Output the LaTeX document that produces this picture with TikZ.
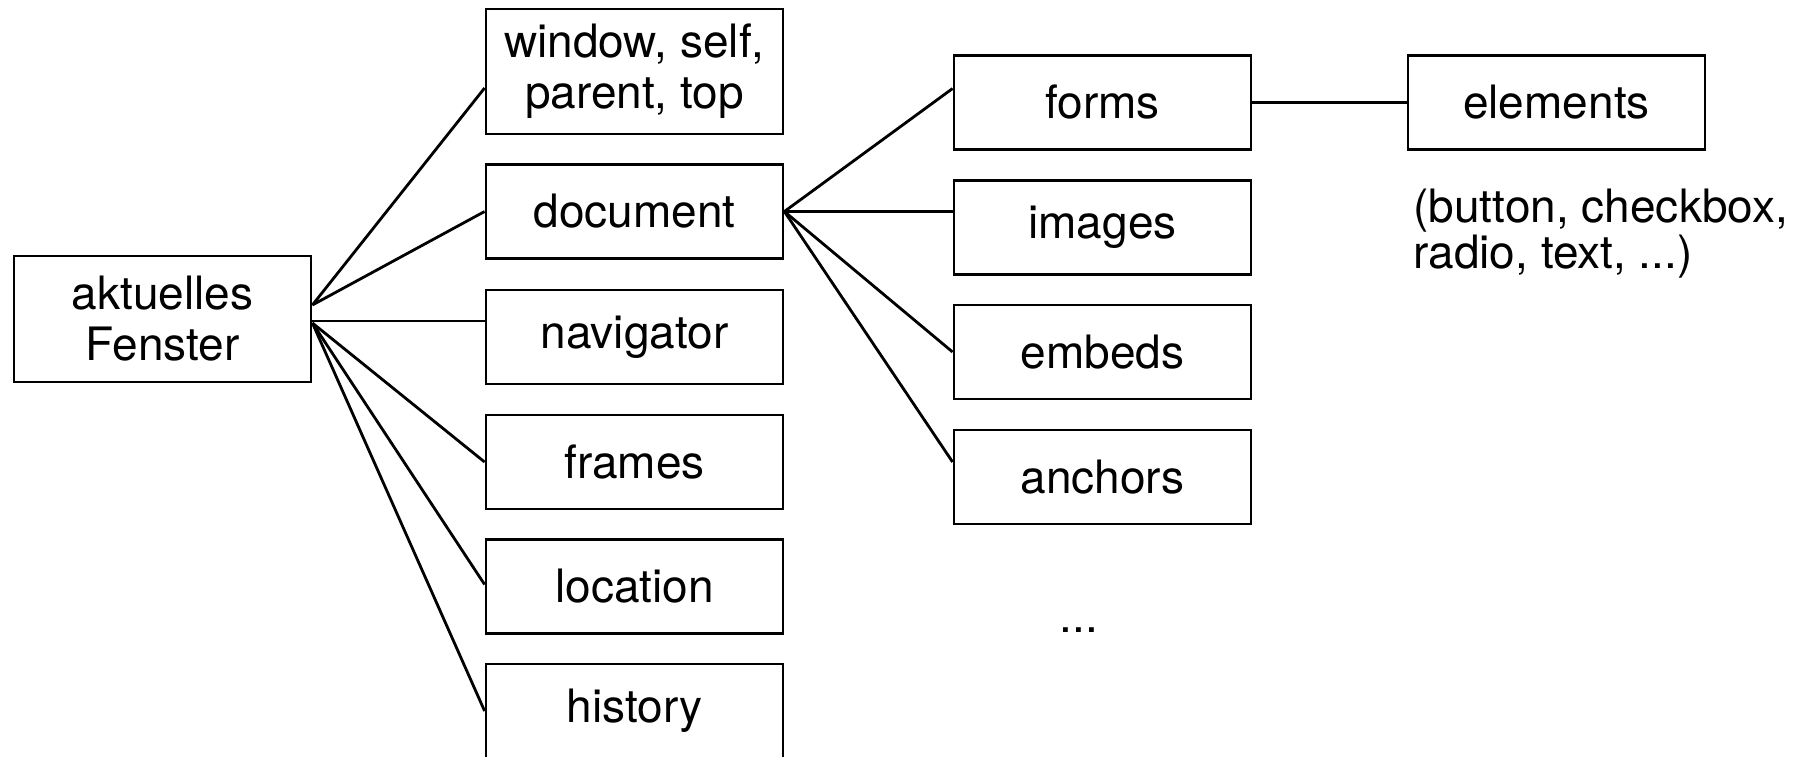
\documentclass[tikz,border=0pt]{standalone}
\usepackage{fontspec}
\setmainfont{TeX Gyre Heros}
\begin{document}
\begin{tikzpicture}[x=0.5pt,y=-0.5pt,line width=1.4pt,
    box/.style={draw,minimum width=148.5pt,minimum height=47pt,inner sep=0pt,
      align=center,font=\fontsize{23}{25.5}\selectfont},
    plain/.style={inner sep=0pt,font=\fontsize{23}{23}\selectfont}]
  \useasboundingbox (0,0) rectangle (1811,756);

  % window
  \node[box,minimum height=63pt] (akt) at (162.5,319) {aktuelles\\Fenster};

  % objects of the window
  \node[box,minimum height=62.5pt] (win) at (634.5,71.5) {window, self,\\parent, top};
  \node[box] (doc) at (634.5,211.5) {document};
  \node[box] (nav) at (634.5,337) {navigator};
  \node[box] (frm) at (634.5,462) {frames};
  \node[box] (loc) at (634.5,586.5) {location};
  \node[box] (his) at (634.5,711) {history};

  % objects of the document
  \node[box] (forms) at (1102.5,102.5) {forms};
  \node[box] (img) at (1102.5,227.5) {images};
  \node[box] (emb) at (1102.5,352) {embeds};
  \node[box] (anc) at (1102.5,477) {anchors};
  \node[plain,anchor=base] (more) at (1079,632) {...};

  % form elements
  \node[box] (elem) at (1556.5,102.5) {elements};
  \node[plain,anchor=base west,align=left] (note) at (1412,268)
    {(button, checkbox,\\radio, text, ...)};

  \draw ([yshift=7pt]akt.east) -- ([yshift=-8.25pt]win.west);
  \draw ([yshift=7pt]akt.east) -- (doc.west);
  \draw ([yshift=-1pt]akt.east) -- ([yshift=8pt]nav.west);
  \draw ([yshift=-2pt]akt.east) -- (frm.west);
  \draw ([yshift=-2pt]akt.east) -- ([yshift=1pt]loc.west);
  \draw ([yshift=-2pt]akt.east) -- (his.west);

  \draw (doc.east) -- ([yshift=7pt]forms.west);
  \draw (doc.east) -- ([yshift=8pt]img.west);
  \draw (doc.east) -- (emb.west);
  \draw (doc.east) -- ([yshift=7.5pt]anc.west);

  \draw (forms) -- (elem);
\end{tikzpicture}
\end{document}
